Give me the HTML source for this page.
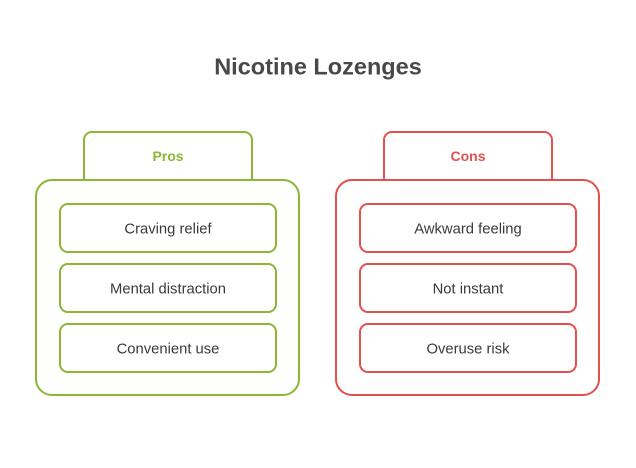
<!DOCTYPE html>
<html><head><meta charset="utf-8"><style>
html,body{margin:0;padding:0;background:#fff;}
svg{display:block;}
text{font-family:"Liberation Sans",Arial,sans-serif;}
</style></head><body>
<svg width="636" height="468" viewBox="0 0 636 468" xmlns="http://www.w3.org/2000/svg">
<rect width="636" height="468" fill="#fff"/>
<text x="318" y="74.5" text-anchor="middle" font-size="23.5" font-weight="bold" fill="#484848">Nicotine Lozenges</text>

<g fill="#fff" stroke="#8AB833" stroke-width="2">
<path d="M84 180 V140 a8 8 0 0 1 8 -8 H244 a8 8 0 0 1 8 8 V180"/>
<rect x="36" y="180" width="263" height="215" rx="16"/>
<rect x="60" y="204" width="216" height="48" rx="8"/>
<rect x="60" y="264" width="216" height="48" rx="8"/>
<rect x="60" y="324" width="216" height="48" rx="8"/>
</g>
<text x="168" y="161" text-anchor="middle" font-size="14" font-weight="bold" fill="#8AB833">Pros</text>
<g font-size="14.8" fill="#3a3a3a" text-anchor="middle">
<text x="168" y="233.5">Craving relief</text>
<text x="168" y="293.5">Mental distraction</text>
<text x="168" y="353.5">Convenient use</text>
</g>

<g fill="#fff" stroke="#E2504F" stroke-width="2">
<path d="M384 180 V140 a8 8 0 0 1 8 -8 H544 a8 8 0 0 1 8 8 V180"/>
<rect x="336" y="180" width="263" height="215" rx="16"/>
<rect x="360" y="204" width="216" height="48" rx="8"/>
<rect x="360" y="264" width="216" height="48" rx="8"/>
<rect x="360" y="324" width="216" height="48" rx="8"/>
</g>
<text x="468" y="161" text-anchor="middle" font-size="14" font-weight="bold" fill="#E2504F">Cons</text>
<g font-size="14.8" fill="#3a3a3a" text-anchor="middle">
<text x="468" y="233.5">Awkward feeling</text>
<text x="468" y="293.5">Not instant</text>
<text x="468" y="353.5">Overuse risk</text>
</g>
</svg>
</body></html>
